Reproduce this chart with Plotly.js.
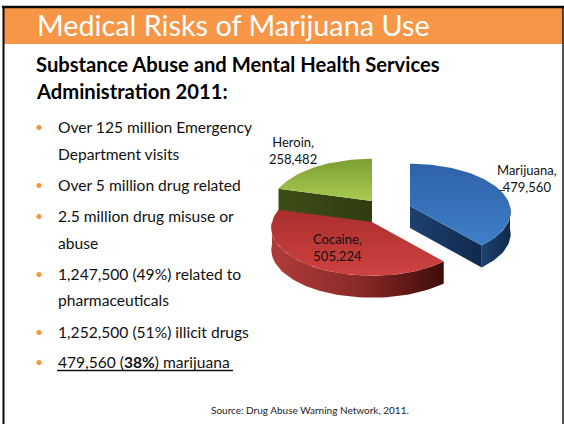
<!DOCTYPE html>
<html>
<head>
<meta charset="utf-8">
<script src="https://cdn.plot.ly/plotly-3.0.1.min.js"></script>
<style>html,body{margin:0;padding:0;background:#fff}#chart{width:564px;height:424px}</style>
</head>
<body>
<div id="chart"></div>
<script>
// Emergency department visits by drug, DAWN 2011
const drugs = ['Marijuana', 'Cocaine', 'Heroin'];
const visits = [479560, 505224, 258482];

const slideTitle = 'Medical Risks of Marijuana Use';
const headingLines = ['Substance Abuse and Mental Health Services', 'Administration 2011:'];
const bulletLines = [
  'Over 125 million Emergency', 'Department visits', 'Over 5 million drug related',
  '2.5 million drug misuse or', 'abuse', '1,247,500 (49%) related to', 'pharmaceuticals',
  '1,252,500 (51%) illicit drugs', '479,560 (<b>38%</b>) marijuana'
];
const bulletRows = [127, 154, 185, 216, 243, 274, 300, 332, 362];
const bulletStarts = [true, false, true, true, false, true, false, true, true];
const sourceNote = 'Source: Drug Abuse Warning Network, 2011.';

const FONT = 'Lato, "Open Sans", sans-serif';

// Tilted-disc projection: angle measured clockwise from 12 o'clock, near edge drawn larger
const RX = 100, RY = 48, TILT = 0.12, DEPTH = 22;
function project(deg, cx, cy, drop) {
  const t = deg * Math.PI / 180;
  const s = 1 - TILT * Math.cos(t);
  return [cx + RX * Math.sin(t) * s, cy - RY * Math.cos(t) * s + (drop || 0)];
}
function arc(from, to, cx, cy, drop) {
  const pts = [];
  const n = Math.max(2, Math.ceil(Math.abs(to - from) / 2));
  for (let i = 0; i <= n; i++) pts.push(project(from + (to - from) * i / n, cx, cy, drop));
  return pts;
}
function polygon(points, name, gradient) {
  return {
    type: 'scatter', mode: 'lines', name, hoverinfo: 'skip', showlegend: false,
    x: points.concat([points[0]]).map(p => p[0]),
    y: points.concat([points[0]]).map(p => p[1]),
    line: {width: 0}, fill: 'toself',
    fillgradient: {type: gradient.type, colorscale: gradient.stops}
  };
}

// Slice angles follow from the values
const total = visits.reduce((a, b) => a + b, 0);
const spans = [];
let running = 0;
visits.forEach(v => { spans.push([running / total * 360, (running + v) / total * 360]); running += v; });

const sliceStyle = {
  Marijuana: {apex: [410, 206], top: ['#3f7fc8', '#2e62a8'], wall: ['#1d416f', '#10294b']},
  Cocaine:   {apex: [372, 222], top: ['#cf4240', '#a92e2c'], wall: ['#b03c3a', '#8a2a28', '#3f0c0a']},
  Heroin:    {apex: [372, 201], top: ['#a9cb50', '#7c9e34'], wall: ['#3d4d16', '#2f3c10']}
};
function ramp(colors) {
  return colors.map((c, i) => [i / (colors.length - 1), c]);
}

function sliceTraces(i) {
  const name = drugs[i], st = sliceStyle[name], [a0, a1] = spans[i];
  const [cx, cy] = st.apex;
  const out = [];
  const wallGrad = {type: 'horizontal', stops: ramp(st.wall)};
  // Outer rim, only where the arc faces the viewer
  const f0 = Math.max(a0, 90), f1 = Math.min(a1, 270);
  if (f1 > f0) {
    const rim = arc(f0, f1, cx, cy, 0).concat(arc(f1, f0, cx, cy, DEPTH));
    out.push(polygon(rim, name + ' rim', wallGrad));
  }
  // Visible cut faces
  if (name === 'Marijuana') {
    const e = project(a1, cx, cy, 0), d = project(a1, cx, cy, DEPTH);
    out.push(polygon([[cx, cy], e, d, [cx, cy + DEPTH]], name + ' face', wallGrad));
  }
  if (name === 'Heroin') {
    const e = project(a0, cx, cy, 0), d = project(a0, cx, cy, DEPTH);
    out.push(polygon([[cx, cy], e, d, [cx, cy + DEPTH]], name + ' face', wallGrad));
  }
  const top = [[cx, cy]].concat(arc(a0, a1, cx, cy, 0));
  out.push(polygon(top, name + ' top', {type: 'vertical', stops: ramp(st.top)}));
  return out;
}

// Back slices first so the front slice overlaps them
const data = [2, 0, 1].flatMap(sliceTraces);

function label(text, x, y, opts) {
  return Object.assign({
    text, x, y, xref: 'x', yref: 'y', showarrow: false, xanchor: 'left', yanchor: 'middle',
    borderpad: 0, font: {family: FONT, size: 15, color: '#111'}
  }, opts || {});
}

const annotations = [];
annotations.push(label(slideTitle, 36, 25, {font: {family: FONT, size: 28.8, color: '#fff'}}));
headingLines.forEach((t, i) => annotations.push(label('<b>' + t + '</b>', 35, 64 + i * 27,
  {font: {family: FONT, size: 20.2, color: '#000'}})));
bulletLines.forEach((t, i) => {
  annotations.push(label(t, 57, bulletRows[i], {font: {family: FONT, size: 15.6, color: '#111'}}));
  if (bulletStarts[i]) annotations.push(label('•', 39, bulletRows[i] - 1,
    {xanchor: 'center', font: {family: FONT, size: 14, color: '#f79646'}}));
});
annotations.push(label(sourceNote, 309.5, 410, {xanchor: 'center', font: {family: FONT, size: 10, color: '#222'}}));

// Data labels carry the values themselves
const labelSpots = {Marijuana: [527, 178], Cocaine: [337, 247], Heroin: [293, 150]};
drugs.forEach((d, i) => {
  annotations.push(label(d + ',<br>' + visits[i].toLocaleString('en-US'), labelSpots[d][0], labelSpots[d][1],
    {xanchor: 'center', align: 'center', font: {family: FONT, size: 13, color: '#111'}}));
});

const shapes = [
  {type: 'rect', xref: 'x', yref: 'y', x0: 4, x1: 563, y0: 8, y1: 44, fillcolor: '#f79646', line: {width: 0}, layer: 'below'},
  {type: 'line', xref: 'x', yref: 'y', x0: 2, x1: 564, y0: 7, y1: 7, line: {color: '#0a0a0a', width: 2.6}, layer: 'below'},
  {type: 'line', xref: 'x', yref: 'y', x0: 3.5, x1: 3.5, y0: 6, y1: 424, line: {color: '#0a0a0a', width: 2}, layer: 'below'},
  {type: 'line', xref: 'x', yref: 'y', x0: 563, x1: 563, y0: 6, y1: 424, line: {color: '#0a0a0a', width: 1.4}, layer: 'below'},
  {type: 'line', xref: 'x', yref: 'y', x0: 57, x1: 233, y0: 370.5, y1: 370.5, line: {color: '#111', width: 1.4}},
  {type: 'line', xref: 'x', yref: 'y', x0: 499, x1: 505, y0: 190.5, y1: 190.5, line: {color: '#333', width: 1}}
];

const layout = {
  width: 564, height: 424,
  margin: {l: 0, r: 0, t: 0, b: 0},
  paper_bgcolor: '#fff', plot_bgcolor: '#fff',
  showlegend: false,
  xaxis: {range: [0, 564], visible: false, fixedrange: true},
  yaxis: {range: [424, 0], visible: false, fixedrange: true},
  shapes, annotations
};

Plotly.newPlot('chart', data, layout, {displayModeBar: false, staticPlot: true});
</script>
</body>
</html>
